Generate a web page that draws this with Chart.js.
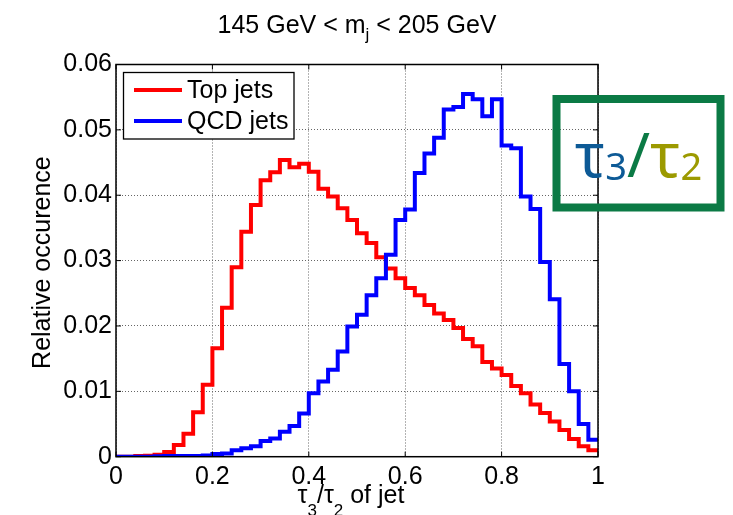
<!DOCTYPE html>
<html>
<head>
<meta charset="utf-8">
<style>
  html, body { margin: 0; padding: 0; background: #fff; }
</style>
</head>
<body>
<canvas id="hist" width="733" height="515"></canvas>

<script src="https://cdn.jsdelivr.net/npm/chart.js"></script>

<script>
  // bin edges of tau3/tau2 (50 bins of 0.02)
  const binEdges = [0, 0.02, 0.04, 0.06, 0.08, 0.1, 0.12, 0.14, 0.16, 0.18,
    0.2, 0.22, 0.24, 0.26, 0.28, 0.3, 0.32, 0.34, 0.36, 0.38,
    0.4, 0.42, 0.44, 0.46, 0.48, 0.5, 0.52, 0.54, 0.56, 0.58,
    0.6, 0.62, 0.64, 0.66, 0.68, 0.7, 0.72, 0.74, 0.76, 0.78,
    0.8, 0.82, 0.84, 0.86, 0.88, 0.9, 0.92, 0.94, 0.96, 0.98, 1];

  const topJets = [0, 0, 0.0001, 0.00015, 0.0003, 0.0007, 0.0018, 0.0035, 0.0068, 0.011,
    0.0166, 0.0228, 0.029, 0.0344, 0.0385, 0.0423, 0.0435, 0.0454, 0.0443, 0.0448,
    0.0436, 0.041, 0.0398, 0.038, 0.0362, 0.0342, 0.0327, 0.0305, 0.0288, 0.0273,
    0.0258, 0.0247, 0.0232, 0.0219, 0.0209, 0.0197, 0.018, 0.0169, 0.0145, 0.0135,
    0.0125, 0.0108, 0.0097, 0.008, 0.0067, 0.0054, 0.0041, 0.0027, 0.0016, 0.001];

  const qcdJets = [0, 0, 0, 0, 0.00005, 0.0001, 0.0001, 0.0001, 0.0001, 0.0002,
    0.0004, 0.0005, 0.001, 0.0013, 0.0016, 0.0024, 0.0028, 0.0038, 0.0047, 0.0066,
    0.0097, 0.0115, 0.0133, 0.0161, 0.0199, 0.0217, 0.0247, 0.0273, 0.0309, 0.0362,
    0.0378, 0.0434, 0.0464, 0.0488, 0.0531, 0.0535, 0.0555, 0.0547, 0.0521, 0.0547,
    0.0476, 0.0472, 0.0398, 0.0379, 0.0298, 0.0241, 0.0142, 0.01, 0.005, 0.0026];

  const seriesNames = ['Top jets', 'QCD jets'];
  const xTicks = [0, 0.2, 0.4, 0.6, 0.8, 1];
  const xTickLabels = ['0', '0.2', '0.4', '0.6', '0.8', '1'];
  const yTicks = [0, 0.01, 0.02, 0.03, 0.04, 0.05, 0.06];
  const yTickLabels = ['0', '0.01', '0.02', '0.03', '0.04', '0.05', '0.06'];

  const FONT = "'Liberation Sans', Arial, Helvetica, sans-serif";
  const TAUFONT = "'Noto Sans', 'DejaVu Sans', sans-serif";

  // one point per bin edge, the last bin is closed at x = 1
  function steps(vals) {
    const pts = vals.map((v, i) => ({ x: binEdges[i], y: v }));
    pts.push({ x: binEdges[binEdges.length - 1], y: vals[vals.length - 1] });
    return pts;
  }

  // text with subscripts, drawn centered on cx
  function drawRuns(ctx, runs, cx, base, family) {
    let w = 0;
    runs.forEach(r => {
      ctx.font = r.size + 'px ' + family;
      r.w = ctx.measureText(r.text).width;
      w += r.w;
    });
    let x = cx - w / 2;
    ctx.textAlign = 'left';
    ctx.textBaseline = 'alphabetic';
    runs.forEach(r => {
      ctx.font = r.size + 'px ' + family;
      ctx.fillStyle = r.color || '#000';
      ctx.fillText(r.text, x, base + (r.dy || 0));
      x += r.w;
    });
  }

  const decor = {
    id: 'decor',
    afterDraw(chart) {
      const { ctx, chartArea: a, scales } = chart;
      ctx.save();

      // axes box and inward ticks
      ctx.strokeStyle = '#000';
      ctx.lineWidth = 1;
      ctx.beginPath();
      xTicks.forEach(v => {
        const px = scales.x.getPixelForValue(v);
        ctx.moveTo(px, a.bottom); ctx.lineTo(px, a.bottom - 5);
        ctx.moveTo(px, a.top); ctx.lineTo(px, a.top + 5);
      });
      yTicks.forEach(v => {
        const py = scales.y.getPixelForValue(v);
        ctx.moveTo(a.left, py); ctx.lineTo(a.left + 5, py);
        ctx.moveTo(a.right, py); ctx.lineTo(a.right - 5, py);
      });
      ctx.stroke();
      ctx.lineWidth = 1.5;
      ctx.strokeRect(a.left, a.top, a.right - a.left, a.bottom - a.top);

      // legend
      ctx.fillStyle = '#fff';
      ctx.fillRect(123.5, 72.5, 170.5, 66.5);
      ctx.lineWidth = 1.3;
      ctx.strokeRect(123.5, 72.5, 170.5, 66.5);
      chart.data.datasets.forEach((ds, i) => {
        const ly = 90 + i * 31;
        ctx.strokeStyle = ds.borderColor;
        ctx.lineWidth = 4;
        ctx.beginPath();
        ctx.moveTo(134, ly); ctx.lineTo(182, ly);
        ctx.stroke();
        ctx.fillStyle = '#000';
        ctx.font = '25px ' + FONT;
        ctx.textAlign = 'left';
        ctx.textBaseline = 'alphabetic';
        ctx.fillText(ds.label, 187, ly + 8);
      });

      // title
      drawRuns(ctx, [
        { text: '145 GeV < m', size: 25 },
        { text: 'j', size: 17, dy: 7 },
        { text: ' < 205 GeV', size: 25 }
      ], (a.left + a.right) / 2, 33, FONT);

      // x axis title
      drawRuns(ctx, [
        { text: 'τ', size: 25 },
        { text: '3', size: 17, dy: 13 },
        { text: '/τ', size: 25 },
        { text: '2', size: 17, dy: 13 },
        { text: ' of jet', size: 25 }
      ], 351, 503, FONT);

      // y axis title
      ctx.save();
      ctx.translate(49.5, (a.top + a.bottom) / 2 + 2);
      ctx.rotate(-Math.PI / 2);
      ctx.font = '25px ' + FONT;
      ctx.fillStyle = '#000';
      ctx.textAlign = 'center';
      ctx.textBaseline = 'alphabetic';
      ctx.fillText('Relative occurence', 0, 0);
      ctx.restore();

      // tau3/tau2 badge
      ctx.strokeStyle = '#0b7a45';
      ctx.lineWidth = 8;
      ctx.strokeRect(556.5, 99, 164, 108.5);
      drawRuns(ctx, [
        { text: 'τ', size: 62, color: '#0d5a96' },
        { text: '3', size: 38, dy: 3, color: '#0d5a96' },
        { text: '/', size: 62, color: '#0b7a45' },
        { text: 'τ', size: 62, color: '#9c9a00' },
        { text: '2', size: 38, dy: 3, color: '#9c9a00' }
      ], 638.5, 177, TAUFONT);

      ctx.restore();
    }
  };

  const ctx = document.getElementById('hist');

  new Chart(ctx, {
    type: 'line',
    data: {
      datasets: [{
        label: seriesNames[0],
        data: steps(topJets),
        borderColor: '#ff0000',
        order: 2
      }, {
        label: seriesNames[1],
        data: steps(qcdJets),
        borderColor: '#0000ff',
        order: 1
      }]
    },
    options: {
      responsive: false,
      devicePixelRatio: 1,
      animation: false,
      events: [],
      layout: { padding: { top: 64.5, right: 135, bottom: 0, left: 0 } },
      elements: {
        line: { borderWidth: 4, stepped: 'before', fill: false, borderJoinStyle: 'miter', borderCapStyle: 'butt' },
        point: { radius: 0 }
      },
      plugins: { legend: { display: false }, tooltip: { enabled: false }, title: { display: false } },
      scales: {
        x: {
          type: 'linear',
          min: 0,
          max: 1,
          afterFit: s => { s.height = 58.3; },
          afterBuildTicks: s => { s.ticks = xTicks.map(v => ({ value: v })); },
          grid: { color: '#666', lineWidth: 1, drawTicks: false, borderDash: [1, 2] },
          border: { display: false, dash: [1, 2] },
          ticks: {
            padding: 5,
            color: '#000',
            font: { family: FONT, size: 25 },
            maxRotation: 0,
            autoSkip: false,
            callback: (v, i) => xTickLabels[i]
          }
        },
        y: {
          min: 0,
          max: 0.06,
          afterFit: s => { s.width = 116; },
          afterBuildTicks: s => { s.ticks = yTicks.map(v => ({ value: v })); },
          grid: { color: '#666', lineWidth: 1, drawTicks: false, borderDash: [1, 2] },
          border: { display: false, dash: [1, 2] },
          ticks: {
            padding: 4,
            color: '#000',
            font: { family: FONT, size: 25 },
            autoSkip: false,
            callback: (v, i) => yTickLabels[i]
          }
        }
      }
    },
    plugins: [decor]
  });
</script>
</body>
</html>
